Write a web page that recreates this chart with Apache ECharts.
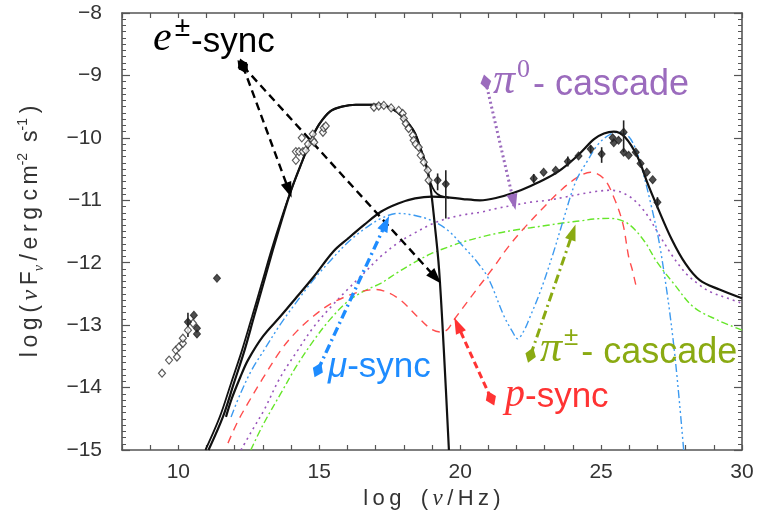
<!DOCTYPE html>
<html><head><meta charset="utf-8">
<script src="https://cdn.jsdelivr.net/npm/echarts@6/dist/echarts.min.js"></script>
<style>html,body{margin:0;padding:0;background:#fff}#c{width:760px;height:517px}</style>
</head><body><div id="c"></div>
<script>
// ---- axis ticks ----
const xTickLabels = [10, 15, 20, 25, 30];
const yTickLabels = [-15, -14, -13, -12, -11, -10, -9, -8];

// ---- model curves [log nu, log nuFnu] ----
const eSync = [[11.07,-15],[11.58,-14.47],[11.97,-13.93],[12.35,-13.4],[12.68,-12.87],[13.02,-12.33],[13.35,-11.8],[13.68,-11.3],[14.0,-10.84],[14.4,-10.37],[14.7,-10.04],[15.0,-9.78],[15.4,-9.57],[15.8,-9.5],[16.3,-9.47],[17.2,-9.47],[17.6,-9.54],[17.9,-9.64],[18.2,-9.79],[18.4,-9.93],[18.6,-10.18],[18.8,-10.45],[18.95,-10.8],[19.1,-11.4],[19.25,-12.1],[19.42,-13.4],[19.6,-15]];
const totalLow = [[10.96,-15],[11.47,-14.47],[11.87,-13.93],[12.26,-13.4],[12.61,-12.87],[12.96,-12.33],[13.3,-11.8],[13.65,-11.3],[14.0,-10.84],[14.4,-10.37],[14.7,-10.04],[15.0,-9.78],[15.4,-9.57],[15.8,-9.5],[16.3,-9.47],[17.2,-9.47],[17.6,-9.54],[17.9,-9.64],[18.2,-9.79],[18.4,-9.93],[18.6,-10.18],[18.8,-10.45],[18.95,-10.72],[19.1,-10.86],[19.3,-10.93],[19.6,-10.96]];
const totalBroad = [[11.69,-14.47],[11.9,-14.17],[12.2,-13.83],[12.47,-13.56],[13.0,-13.18],[13.64,-12.85],[14.2,-12.55],[14.81,-12.22],[15.5,-11.82],[16.0,-11.62],[16.6,-11.39],[17.2,-11.18],[17.8,-11.05],[18.4,-10.97],[19.0,-10.94],[19.5,-10.95],[20.1,-10.98],[20.7,-11.0],[21.3,-10.96],[21.9,-10.88],[22.5,-10.77],[23.1,-10.64],[23.6,-10.5],[24.2,-10.27],[24.75,-10.02],[25.1,-9.93],[25.45,-9.9],[25.85,-9.99],[26.3,-10.31],[26.65,-10.73],[27.0,-11.11],[27.5,-11.62],[28.0,-12.02],[28.5,-12.28],[29.2,-12.43],[30,-12.57]];
const muSync = [[11.87,-14.47],[12.2,-14.1],[12.6,-13.72],[13.04,-13.4],[13.6,-13.0],[14.24,-12.6],[14.8,-12.27],[15.41,-11.96],[16.0,-11.68],[16.6,-11.46],[17.2,-11.29],[17.8,-11.21],[18.36,-11.24],[18.96,-11.32],[19.56,-11.48],[20.13,-11.75],[20.62,-12.0],[21.0,-12.25],[21.55,-12.85],[21.85,-13.1],[22.04,-13.22],[22.25,-13.1],[22.45,-12.9],[22.86,-12.44],[23.3,-11.85],[23.67,-11.3],[24.1,-10.7],[24.5,-10.38],[24.9,-10.1],[25.3,-9.95],[25.6,-9.91],[25.94,-9.96],[26.2,-10.15],[26.4,-10.41],[26.76,-11.05],[27.11,-11.8],[27.57,-13.29],[27.93,-15.0]];
const pSync = [[11.76,-14.89],[12.1,-14.55],[12.47,-14.25],[13.0,-13.85],[13.64,-13.4],[14.2,-13.1],[14.81,-12.85],[15.4,-12.66],[16.01,-12.53],[16.5,-12.46],[17.0,-12.43],[17.4,-12.47],[17.89,-12.6],[18.5,-12.87],[18.96,-13.06],[19.3,-13.11],[19.55,-13.07],[19.77,-12.92],[20.1,-12.72],[20.48,-12.49],[21.19,-12.07],[21.7,-11.75],[22.26,-11.45],[23.1,-11.05],[23.57,-10.84],[24.17,-10.63],[24.63,-10.55],[25.09,-10.65],[25.45,-10.95],[25.77,-11.37],[25.98,-11.91],[26.1,-12.1],[26.23,-12.35]];
const pi0Cascade = [[12.22,-15],[12.6,-14.7],[13.04,-14.36],[13.6,-13.85],[14.24,-13.4],[14.8,-13.03],[15.41,-12.71],[16.0,-12.43],[16.58,-12.17],[17.18,-11.9],[17.8,-11.68],[18.36,-11.53],[19.0,-11.38],[19.56,-11.29],[20.15,-11.23],[20.73,-11.19],[21.3,-11.13],[21.9,-11.08],[22.5,-11.03],[23.1,-11.0],[23.7,-10.95],[24.28,-10.9],[24.8,-10.86],[25.34,-10.84],[25.94,-10.92],[26.51,-11.16],[27.11,-11.59],[27.5,-11.87],[27.82,-12.07],[28.07,-12.2],[28.5,-12.36],[28.89,-12.47],[29.5,-12.57],[30,-12.65]];
const piPmCascade = [[12.57,-15],[13.0,-14.6],[13.64,-14.09],[14.2,-13.65],[14.81,-13.24],[15.4,-12.9],[16.01,-12.62],[16.6,-12.45],[17.18,-12.33],[17.8,-12.15],[18.36,-12.0],[18.95,-11.86],[19.56,-11.75],[20.15,-11.66],[20.73,-11.59],[21.3,-11.53],[21.9,-11.48],[22.5,-11.44],[23.1,-11.4],[23.7,-11.36],[24.28,-11.33],[24.74,-11.3],[25.34,-11.29],[25.94,-11.37],[26.51,-11.64],[27.0,-12.0],[27.57,-12.33],[28.28,-12.71],[29.14,-12.92],[30,-13.08]];

// ---- observed data ----
const obsHollow = [[9.42,-13.77],[9.67,-13.56],[9.91,-13.4],[9.95,-13.51],[10.02,-13.35],[10.16,-13.29],[10.16,-13.21],[10.34,-13.08],[10.52,-12.97],
  [14.17,-10.36],[14.17,-10.22],[14.28,-10.22],[14.42,-10.22],[14.52,-10.2],[14.38,-10.0],[14.6,-10.1],[14.77,-9.94],[14.77,-10.04],[14.82,-10.07],[15.13,-9.91],[15.16,-9.84],[15.23,-9.81],[16.94,-9.51],[17.11,-9.49],
  [17.29,-9.48],[17.55,-9.52],[17.82,-9.56],[17.96,-9.61],[18.0,-9.69],[18.07,-9.77],[18.17,-9.85],[18.32,-9.96],[18.35,-10.04],[18.42,-10.1],[18.53,-10.15],[18.6,-10.28],[18.71,-10.39],[18.85,-10.52],[18.88,-10.68]];
const obsFilled = [[10.34,-12.95],[10.55,-12.84],[10.66,-13.05],[10.66,-13.14],[11.37,-12.25],[19.2,-10.68],[19.49,-10.74],
  [22.61,-10.65],[22.96,-10.55],[23.39,-10.52],[23.82,-10.38],[24.2,-10.29],[24.63,-10.18],[25.02,-10.26],[25.41,-10.0],[25.45,-10.08],[25.62,-10.04],[25.8,-9.91],[25.8,-10.23],[25.98,-10.28],[26.23,-10.23],[26.4,-10.41],[26.62,-10.55],[26.83,-10.67],[27.0,-11.03]];
// error bars [x, low, high]
const errBars = [[10.34,-13.19,-12.8],[19.2,-10.84,-10.57],[19.49,-11.29,-10.52],[22.61,-10.72,-10.58],[23.82,-10.46,-10.3],[24.63,-10.25,-10.12],[25.02,-10.4,-10.15],[25.8,-10.23,-9.72],[27.0,-11.13,-10.95]];

// ---- annotation arrows [x1,y1,x2,y2] ----
const arrowE = [[12.29,-8.85,13.92,-10.84],[12.29,-8.85,19.13,-12.24]];
const arrowPi0 = [[20.91,-9.11,21.9,-11.03]];
const arrowMu = [[14.95,-13.72,17.36,-11.37]];
const arrowPiPm = [[22.5,-13.48,24.0,-11.51]];
const arrowP = [[21.09,-14.17,19.91,-13.0]];

const chart = echarts.init(document.getElementById('c'), null, {renderer:'canvas'});
const AX = '#555';
const FONT = 'Liberation Sans, Arial, sans-serif';
const SERIF = 'Liberation Serif, serif';
const TS = '\u2009';
const fmtMinus = v => (v < 0 ? '\u2212' + Math.abs(v) : String(v));
const spaced = s => s.split('').join(TS);

function curve(name, data, color, width, type) {
  return {name, type:'line', data, showSymbol:false, smooth:0.35, clip:true, silent:true,
    lineStyle:{color, width, type}, z:3};
}
function arrows(list, color, width, type, symSize) {
  return {type:'scatter', data:[], silent:true, z:6,
    markLine:{silent:true, animation:false, symbol:['diamond','triangle'], symbolSize:symSize || [11,16],
      label:{show:false}, lineStyle:{color, width, type}, itemStyle:{color},
      emphasis:{disabled:true},
      data:list.map(a => [{coord:[a[0],a[1]]},{coord:[a[2],a[3]]}])}};
}
function label(x, y, color, text, rich) {
  return {type:'text', x, y, z:10, style:{text, verticalAlign:'middle', fill:color, rich}};
}
const tok = (family, size, color, extra) => Object.assign({fontFamily:family, fontSize:size, fill:color, lineHeight:46, verticalAlign:'bottom'}, extra || {});

const xName = '{n|' + spaced('log') + TS + TS + ' ' + TS + spaced('(') + TS + '}{nu|\u03bd}{n|' + TS + spaced('/Hz)') + '}';
const yName = '{n|' + spaced('log(') + TS + '}{nu|\u03bd}{n|' + TS + 'F}{sub|\u03bd}{n|' + TS + spaced('/erg') + ' ' + spaced('cm') + '}{sup|-2}{n| ' + TS + 's}{sup|-1}{n|' + TS + ')}';

const option = {
  animation:false,
  backgroundColor:'#fff',
  grid:{left:122, right:18, top:13, bottom:67},
  xAxis:[
    {type:'value', min:8, max:30, interval:1, position:'bottom',
     axisLine:{lineStyle:{color:AX, width:1.6}}, axisTick:{inside:true, length:5, lineStyle:{color:AX, width:1.2}},
     axisLabel:{customValues:xTickLabels, color:'#333', fontSize:21, fontFamily:FONT, margin:12},
     splitLine:{show:false},
     name:xName, nameLocation:'middle', nameGap:34,
     nameTextStyle:{color:'#333', fontSize:22, fontFamily:FONT,
       rich:{n:{fontSize:22, fontFamily:FONT, color:'#333'}, nu:{fontSize:23, fontFamily:SERIF, fontStyle:'italic', color:'#333'}}}},
    {type:'value', min:8, max:30, interval:1, position:'top',
     axisLine:{lineStyle:{color:AX, width:1.6}}, axisTick:{inside:true, length:5, lineStyle:{color:AX, width:1.2}},
     axisLabel:{show:false}, splitLine:{show:false}}
  ],
  yAxis:[
    {type:'value', min:-15, max:-8, interval:1, position:'left',
     axisLine:{lineStyle:{color:AX, width:1.6}}, axisTick:{inside:true, length:8, lineStyle:{color:AX, width:1.2}},
     minorTick:{show:true, splitNumber:10, length:4, lineStyle:{color:AX, width:1}},
     axisLabel:{customValues:yTickLabels, formatter:fmtMinus, color:'#333', fontSize:21, fontFamily:FONT, margin:20},
     splitLine:{show:false},
     name:yName, nameLocation:'middle', nameGap:76,
     nameTextStyle:{color:'#333', fontSize:23, fontFamily:FONT, lineHeight:30,
       rich:{n:{fontSize:23, fontFamily:FONT, color:'#333', lineHeight:30},
             nu:{fontSize:24, fontFamily:SERIF, fontStyle:'italic', color:'#333', lineHeight:30},
             sub:{fontSize:14, fontFamily:SERIF, fontStyle:'italic', color:'#333', lineHeight:30, verticalAlign:'bottom'},
             sup:{fontSize:14, fontFamily:FONT, color:'#333', lineHeight:30, verticalAlign:'top'}}}},
    {type:'value', min:-15, max:-8, interval:1, position:'right',
     axisLine:{lineStyle:{color:AX, width:1.6}}, axisTick:{inside:true, length:8, lineStyle:{color:AX, width:1.2}},
     minorTick:{show:true, splitNumber:10, length:4, lineStyle:{color:AX, width:1}},
     axisLabel:{show:false}, splitLine:{show:false}}
  ],
  series:[
    curve('pi0', pi0Cascade, '#9955bb', 1.6, [2,4]),
    curve('pipm', piPmCascade, '#66e62a', 1.4, [7,3,2,3]),
    curve('p', pSync, '#ff4d4d', 1.4, [8,6]),
    curve('mu', muSync, '#3c9af0', 1.4, [8,3,2,3,2,3,2,3]),
    curve('broad', totalBroad, '#111', 2.2, 'solid'),
    curve('totalLow', totalLow, '#111', 1.8, 'solid'),
    curve('esync', eSync, '#111', 2.2, 'solid'),
    {type:'custom', silent:true, z:4, data:errBars,
     renderItem:(params, api) => {
       const a = api.coord([api.value(0), api.value(1)]);
       const b = api.coord([api.value(0), api.value(2)]);
       return {type:'line', shape:{x1:a[0], y1:a[1], x2:b[0], y2:b[1]}, style:{stroke:'#222', lineWidth:1.6}};
     }},
    {type:'scatter', data:obsHollow, symbol:'diamond', symbolSize:[7,8], silent:true, z:5,
     itemStyle:{color:'#fff', borderColor:'#333', borderWidth:1.2}},
    {type:'scatter', data:obsFilled, symbol:'diamond', symbolSize:[7,8], silent:true, z:5,
     itemStyle:{color:'#222', borderColor:'#222', borderWidth:1}},
    arrows(arrowE, '#000', 2.4, [8,5]),
    arrows(arrowPi0, '#9b6bbd', 3, [2,3]),
    arrows(arrowMu, '#1e8cff', 3.4, [9,4,2,4]),
    arrows(arrowPiPm, '#8aaa12', 3, [9,4,2,4]),
    arrows(arrowP, '#ff3333', 3, [7,4])
  ],
  graphic:[
    label(153, 37, '#000', '{it|e}{sup|\u00b1}{n|-sync}', {
      it:tok(SERIF, 42, '#000', {fontStyle:'italic'}),
      sup:tok(FONT, 28, '#000', {verticalAlign:'top', padding:[0,1,0,3]}),
      n:tok(FONT, 35, '#000')}),
    label(493, 80, '#9b6bbd', '{it|\u03c0}{sup|0}{n|- cascade}', {
      it:tok(SERIF, 44, '#9b6bbd', {fontStyle:'italic'}),
      sup:tok(SERIF, 26, '#9b6bbd', {verticalAlign:'top', padding:[0,3,0,2]}),
      n:tok(FONT, 36, '#9b6bbd')}),
    label(328, 362, '#1e8cff', '{it|\u03bc}{n|-sync}', {
      it:tok(FONT, 35, '#1e8cff', {fontStyle:'italic'}),
      n:tok(FONT, 35, '#1e8cff')}),
    label(505, 392, '#ff3333', '{it|p}{n|-sync}', {
      it:tok(SERIF, 40, '#ff3333', {fontStyle:'italic'}),
      n:tok(FONT, 35, '#ff3333')}),
    label(540, 348, '#8aaa12', '{it|\u03c0}{sup|\u00b1}{n|- cascade}', {
      it:tok(SERIF, 44, '#8aaa12', {fontStyle:'italic'}),
      sup:tok(FONT, 26, '#8aaa12', {verticalAlign:'top', padding:[0,3,0,2]}),
      n:tok(FONT, 36, '#8aaa12')})
  ]
};
chart.setOption(option);
</script></body></html>
